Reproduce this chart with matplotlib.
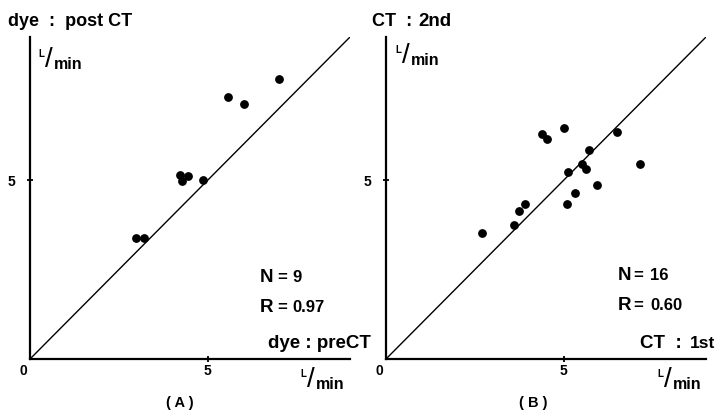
import matplotlib.pyplot as plt

# panel A: dye pre CT vs dye post CT (L/min)
dye_pre = [7.0, 5.58, 6.01, 4.22, 4.43, 4.28, 4.87, 2.97, 3.20]
dye_post = [7.82, 7.32, 7.12, 5.14, 5.11, 4.97, 5.01, 3.37, 3.37]

# panel B: CT 1st vs CT 2nd (L/min)
ct_1st = [2.70, 3.59, 3.73, 3.92, 4.40, 4.53, 5.00, 5.12, 5.10, 5.32,
          5.52, 5.62, 5.72, 5.94, 6.49, 7.15]
ct_2nd = [3.52, 3.75, 4.14, 4.34, 6.28, 6.15, 6.46, 5.24, 4.32, 4.63,
          5.46, 5.31, 5.85, 4.85, 6.35, 5.46]

W, H = 723, 411
plt.rcParams['font.family'] = ['Liberation Sans', 'DejaVu Sans']
plt.rcParams['font.weight'] = 'bold'

fig = plt.figure(figsize=(W / 100, H / 100), dpi=100)


def px(x, y):
    return x / W, 1 - y / H


def ftext(x, y, s, **kw):
    kw.setdefault('fontsize', 13)
    kw.setdefault('fontweight', 'bold')
    kw.setdefault('va', 'baseline')
    fig.text(*px(x, y), s, **kw)


def unit_label(x, y):
    # "L/min" drawn as small L, long slash, min
    ftext(x, y, 'L', fontsize=7, va='top', ha='left')
    ftext(x + 11, y + 11, '/', fontsize=20, fontweight='normal', va='center', ha='center')
    ftext(x + 16, y + 20, 'min', fontsize=11.5, ha='left')


def stat_label(x, y, name, value, eq_dx):
    ftext(x, y, name, fontsize=13.5)
    ftext(x + eq_dx, y, '=', fontsize=12)
    ftext(x + 32, y, value, fontsize=12)


def panel(left_px, xs, ys):
    ax = fig.add_axes([left_px / W, 52 / H, 320 / W, 322 / H])
    ax.plot([0, 9], [0, 9], color='black', lw=1.0)
    ax.scatter(xs, ys, s=28, color='black', zorder=3)
    ax.set_xlim(0, 9)
    ax.set_ylim(0, 9)
    for side in ['top', 'right']:
        ax.spines[side].set_visible(False)
    for side in ['left', 'bottom']:
        ax.spines[side].set_linewidth(1.6)
    ax.set_xticks([5])
    ax.set_yticks([5])
    ax.set_xticklabels(['5'], fontsize=10, fontweight='bold')
    ax.set_yticklabels(['5'], fontsize=10, fontweight='bold')
    ax.tick_params(direction='inout', length=5, width=1.3)
    ax.tick_params(axis='x', pad=1)
    ax.tick_params(axis='y', pad=8)
    ax.text(-0.2, -0.15, '0', ha='center', va='top', fontsize=10, fontweight='bold')
    return ax


panel(30, dye_pre, dye_post)
panel(386, ct_1st, ct_2nd)

# panel A texts
ftext(8, 26, 'dye  :  post CT')
unit_label(38, 49)
unit_label(300, 369)
ftext(268, 348, 'dye : preCT', fontsize=13.5)
stat_label(260, 282, 'N', '9', 17)
stat_label(260, 312, 'R', '0.97', 17)
ftext(180, 403, '( A )', fontsize=10.5, ha='center', va='center')

# panel B texts
ftext(372, 26, 'CT  :', fontsize=13)
ftext(418, 26, '2nd', fontsize=13.5)
unit_label(395, 45)
unit_label(657, 369)
ftext(640, 348, 'CT  :', fontsize=13.5)
ftext(690, 348, '1st', fontsize=12.5)
stat_label(618, 280, 'N', '16', 15)
stat_label(618, 310, 'R', '0.60', 15)
ftext(533, 403, '( B )', fontsize=10.5, ha='center', va='center')

fig.savefig('out.png', dpi=100)
